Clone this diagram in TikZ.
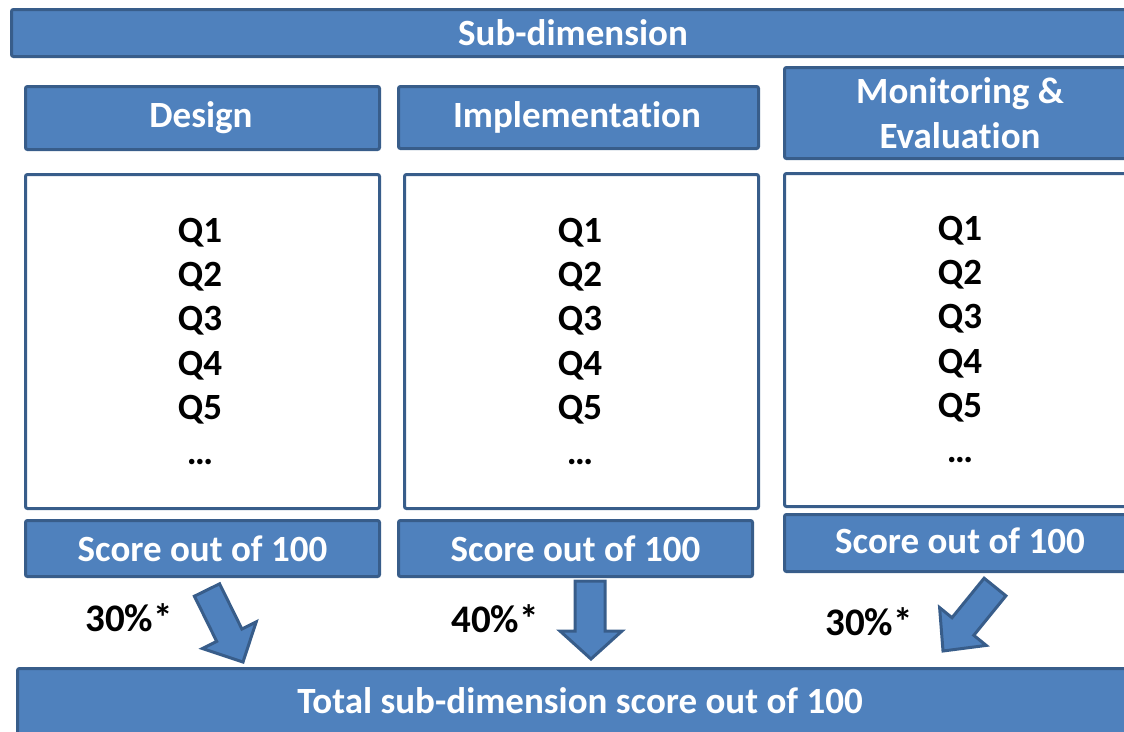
\documentclass[tikz,border=0pt]{standalone}
\usepackage{fontspec}
\setmainfont[Ligatures=NoCommon]{Carlito}
\definecolor{boxfill}{HTML}{4F81BD}
\definecolor{boxline}{HTML}{385D8A}
\tikzset{
  bluebox/.style={draw=boxline, fill=boxfill, line width=3pt, rounded corners=2pt, inner sep=0pt,
    text=white, font=\fontsize{37}{44}\selectfont\bfseries, align=center},
  whitebox/.style={draw=boxline, fill=white, line width=3pt, rounded corners=2pt, inner sep=0pt},
  qtext/.style={font=\fontsize{37}{44}\selectfont\bfseries, anchor=base, inner sep=0pt},
  pct/.style={font=\fontsize{39}{44}\selectfont\bfseries, anchor=base, inner sep=0pt},
  blockarrow/.style={draw=boxline, fill=boxfill, line width=3pt, line join=miter}
}
\begin{document}
\begin{tikzpicture}[x=1pt,y=-1pt]
\useasboundingbox (0,0) rectangle (1124,731);
\clip (0,0) rectangle (1124,731);
% top bar
\node[bluebox, minimum width=1140pt, minimum height=47pt, anchor=north west] (top) at (10,8) {};
\node[text=white, font=\fontsize{37}{44}\selectfont\bfseries, inner sep=0pt] (toplbl) at (573,33) {Sub-dimension};
% headers
\node[bluebox, minimum width=354pt, minimum height=63pt, anchor=north west] (hd) at (24,85) {};
\node[text=white, font=\fontsize{37}{44}\selectfont\bfseries, inner sep=0pt] (hdlbl) at (201,118) {Design};
\node[bluebox, minimum width=360pt, minimum height=62pt, anchor=north west] (hi) at (397,85) {};
\node[text=white, font=\fontsize{37}{44}\selectfont\bfseries, inner sep=0pt] (hilbl) at (577,117) {Implementation};
\node[bluebox, minimum width=360pt, minimum height=91pt, anchor=north west] (hm) at (783,66) {};
\node[text=white, font=\fontsize{37}{45}\selectfont\bfseries, align=center, inner sep=0pt] (hmlbl) at (960,113) {Monitoring \&\\Evaluation};
% white boxes
\node[whitebox, minimum width=354pt, minimum height=334pt, anchor=north west] (wd) at (24,173) {};
\node[whitebox, minimum width=354pt, minimum height=334pt, anchor=north west] (wi) at (403,173) {};
\node[whitebox, minimum width=360pt, minimum height=333pt, anchor=north west] (wm) at (783,172) {};
% Q lists
\foreach \n/\cx/\by in {d/200/242, i/580/242, m/960/240} {
  \foreach \q [count=\k from 0] in {Q1,Q2,Q3,Q4,Q5,…} {
    \node[qtext] (q\n\k) at (\cx,\by+44.4*\k) {\q};
  }
}
% score boxes
\node[bluebox, minimum width=354pt, minimum height=56pt, anchor=north west] (sd) at (24,519) {Score out of 100};
\node[bluebox, minimum width=354pt, minimum height=56pt, anchor=north west] (si) at (397,519) {Score out of 100};
\node[bluebox, minimum width=360pt, minimum height=57pt, anchor=north west] (sm) at (783,513) {};
\node[text=white, font=\fontsize{37}{44}\selectfont\bfseries, inner sep=0pt] (smlbl) at (960,541) {Score out of 100};
% percentages
\node[pct] (p1) at (129,631) {30\%*};
\node[pct] (p2) at (495,632) {40\%*};
\node[pct] (p3) at (869,635) {30\%*};
% bottom bar
\node[bluebox, minimum width=1140pt, minimum height=66pt, anchor=north west] (bot) at (16,667) {};
\node[text=white, font=\fontsize{37}{44}\selectfont\bfseries, inner sep=0pt] (botlbl) at (580,701) {Total sub-dimension score out of 100};
% block arrows
\draw[blockarrow] (194.4,596.2) -- (219.6,583.8) -- (241.9,629.0) -- (256.2,621.9) -- (243,662) -- (202.4,648.5) -- (216.7,641.4) -- cycle;
\draw[blockarrow] (575,581) -- (605,581) -- (605,631) -- (622,631) -- (591,659) -- (560,631) -- (575,631) -- cycle;
\draw[blockarrow] (984.1,578.2) -- (1005.9,595.8) -- (973.8,635.3) -- (986.2,645.4) -- (943,651) -- (939.6,607.6) -- (952.0,617.7) -- cycle;
\end{tikzpicture}
\end{document}
